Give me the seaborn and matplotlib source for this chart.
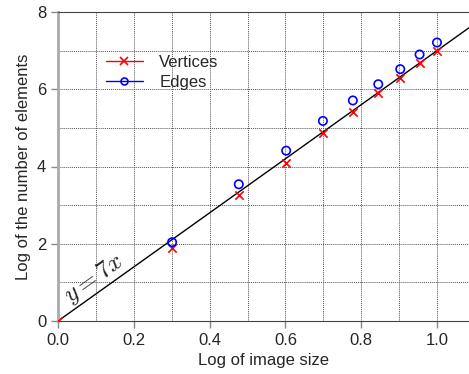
import numpy as np
import pandas as pd
import matplotlib
matplotlib.use("Agg")
import matplotlib.pyplot as plt
from matplotlib.lines import Line2D
from matplotlib.ticker import MultipleLocator
import seaborn as sns

# log10 of image size (2..10) and log of element counts
log_size = [0.0, 0.301, 0.477, 0.602, 0.699, 0.778, 0.845, 0.903, 0.954, 1.0]
log_vertices = [0.0, 1.88, 3.26, 4.10, 4.86, 5.40, 5.89, 6.29, 6.68, 6.99]
log_edges = [None, 2.04, 3.54, 4.41, 5.18, 5.71, 6.13, 6.52, 6.90, 7.21]
slope = 7

df = pd.DataFrame({"x": log_size, "Vertices": log_vertices, "Edges": log_edges})

sns.set_style("white")
plt.rcParams["font.family"] = ["Liberation Sans", "DejaVu Sans"]
plt.rcParams["mathtext.fontset"] = "cm"

fig = plt.figure(figsize=(4.69, 3.74), dpi=100)
ax = fig.add_axes([58 / 469, 1 - 321 / 374, 1 - 58 / 469, (321 - 12) / 374])

# reference line y = 7x
xx = np.array([0, 1.1])
ax.plot(xx, slope * xx, color="black", lw=1, zorder=2)

sns.scatterplot(data=df, x="x", y="Vertices", marker="x", color="red", s=36,
                linewidth=1.2, ax=ax, zorder=3)
sns.scatterplot(data=df.dropna(), x="x", y="Edges", marker="o", facecolor="none",
                edgecolor="blue", s=36, linewidth=1.2, ax=ax, zorder=3)

ax.set_xlim(0, (469 - 58) / 379)
ax.set_ylim(0, 8)
ax.xaxis.set_major_locator(MultipleLocator(0.2))
ax.xaxis.set_minor_locator(MultipleLocator(0.1))
ax.yaxis.set_major_locator(MultipleLocator(2))
ax.yaxis.set_minor_locator(MultipleLocator(1))
ax.grid(which="both", color="#555555", linestyle=(0, (1, 1)), linewidth=0.7)
ax.set_axisbelow(True)

ax.tick_params(which="major", direction="out", length=5, width=1, color="#888888",
               labelsize=12, bottom=True, left=True)
ax.tick_params(which="minor", length=0)

ax.spines["left"].set_color("#aaaaaa")
ax.spines["left"].set_linewidth(2)
ax.spines["top"].set_color("#444444")
ax.spines["bottom"].set_color("#444444")
ax.spines["right"].set_visible(False)

ax.set_xlabel("Log of image size", fontsize=12)
ax.set_ylabel("Log of the number of elements", fontsize=12)

ax.text(0.095, 1.1, r"$y = 7x$", fontsize=18, rotation=35.5,
        rotation_mode="anchor", ha="center", va="center")

handles = [
    Line2D([], [], color="red", marker="x", lw=1, markersize=6, mew=1.2),
    Line2D([], [], color="blue", marker="o", lw=1, markersize=5, mfc="none", mew=1.2),
]
ax.legend(handles, ["Vertices", "Edges"], loc="upper left",
          bbox_to_anchor=(0.08, 0.91), frameon=False, fontsize=12,
          handlelength=2.2, handletextpad=1.0, labelspacing=0.3)

fig.savefig("out.png", dpi=100)
